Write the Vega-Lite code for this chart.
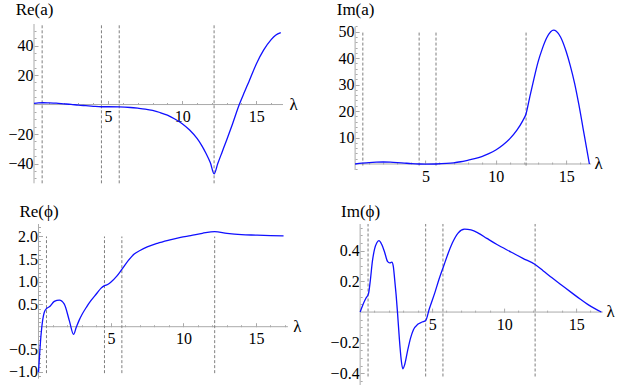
{
  "$schema": "https://vega.github.io/schema/vega-lite/v6.json",
  "padding": {"left": 7, "top": 0, "right": 0, "bottom": 0},
  "background": "white",
  "bounds": "flush",
  "columns": 2,
  "spacing": {"row": 40, "column": 67.1},
  "datasets": {
    "axes": [
      {"p": 1, "x": 0, "x2": 16.8, "y": 0, "y2": 0},
      {"p": 1, "x": 0, "x2": 0, "y": -53.4, "y2": 54.6},
      {"p": 2, "x": 0, "x2": 16.77, "y": 0, "y2": 0},
      {"p": 2, "x": 0, "x2": 0, "y": -2.27, "y2": 51.9},
      {"p": 3, "x": 0, "x2": 17.2, "y": 0, "y2": 0},
      {"p": 3, "x": 0, "x2": 0, "y": -1.153, "y2": 2.277},
      {"p": 4, "x": 0, "x2": 16.85, "y": 0, "y2": 0},
      {"p": 4, "x": 0, "x2": 0, "y": -0.48, "y2": 0.574}
    ],
    "vlines": [
      {"p": 1, "x": 0.55, "y": -53.4, "y2": 54.6},
      {"p": 1, "x": 4.55, "y": -53.4, "y2": 54.6},
      {"p": 1, "x": 5.75, "y": -53.4, "y2": 54.6},
      {"p": 1, "x": 12.15, "y": -53.4, "y2": 54.6},
      {"p": 2, "x": 0.55, "y": -0.6, "y2": 50.3},
      {"p": 2, "x": 4.55, "y": -0.6, "y2": 50.3},
      {"p": 2, "x": 5.75, "y": -0.6, "y2": 50.3},
      {"p": 2, "x": 12.15, "y": -0.6, "y2": 50.3},
      {"p": 3, "x": 0.55, "y": -1.03, "y2": 2.0},
      {"p": 3, "x": 4.55, "y": -1.03, "y2": 2.0},
      {"p": 3, "x": 5.75, "y": -1.03, "y2": 2.0},
      {"p": 3, "x": 12.15, "y": -1.03, "y2": 2.0},
      {"p": 4, "x": 0.55, "y": -0.42, "y2": 0.574},
      {"p": 4, "x": 4.55, "y": -0.42, "y2": 0.574},
      {"p": 4, "x": 5.75, "y": -0.42, "y2": 0.574},
      {"p": 4, "x": 12.15, "y": -0.42, "y2": 0.574}
    ],
    "rea": [
      {"x": 0, "y": 0.8}, {"x": 0.3, "y": 1.1}, {"x": 0.6, "y": 1.2}, {"x": 1.0, "y": 1.1},
      {"x": 1.5, "y": 0.9}, {"x": 2.0, "y": 0.5}, {"x": 2.5, "y": 0.1}, {"x": 3.0, "y": -0.4},
      {"x": 3.5, "y": -0.8}, {"x": 4.0, "y": -1.2}, {"x": 4.55, "y": -1.5}, {"x": 5.0, "y": -1.5},
      {"x": 5.75, "y": -1.6}, {"x": 6.5, "y": -2.0}, {"x": 7.0, "y": -2.5}, {"x": 7.5, "y": -3.1},
      {"x": 8.0, "y": -4.0}, {"x": 8.5, "y": -5.4}, {"x": 9.0, "y": -7.2}, {"x": 9.5, "y": -9.8},
      {"x": 10.0, "y": -13.0}, {"x": 10.5, "y": -17.3}, {"x": 11.0, "y": -23.0}, {"x": 11.3, "y": -27.5},
      {"x": 11.6, "y": -33.0}, {"x": 11.9, "y": -39.5}, {"x": 12.15, "y": -47.0}, {"x": 12.4, "y": -40.0},
      {"x": 12.7, "y": -32.0}, {"x": 13.0, "y": -24.0}, {"x": 13.4, "y": -13.0}, {"x": 13.85, "y": 0.0},
      {"x": 14.2, "y": 8.5}, {"x": 14.5, "y": 15.5}, {"x": 15.0, "y": 27.5}, {"x": 15.5, "y": 37.0},
      {"x": 16.0, "y": 44.0}, {"x": 16.3, "y": 47.0}, {"x": 16.65, "y": 48.8}
    ],
    "ima": [
      {"x": 0, "y": 0}, {"x": 0.5, "y": 0.3}, {"x": 1.0, "y": 0.55}, {"x": 1.5, "y": 0.7},
      {"x": 2.0, "y": 0.75}, {"x": 2.5, "y": 0.7}, {"x": 3.0, "y": 0.55}, {"x": 3.5, "y": 0.35},
      {"x": 4.0, "y": 0.15}, {"x": 4.55, "y": 0.0}, {"x": 5.0, "y": -0.05}, {"x": 5.75, "y": 0.0},
      {"x": 6.5, "y": 0.2}, {"x": 7.0, "y": 0.45}, {"x": 7.5, "y": 0.85}, {"x": 8.0, "y": 1.4},
      {"x": 8.5, "y": 2.0}, {"x": 9.0, "y": 2.8}, {"x": 9.5, "y": 3.9}, {"x": 10.0, "y": 5.3},
      {"x": 10.5, "y": 7.2}, {"x": 11.0, "y": 9.6}, {"x": 11.5, "y": 12.8}, {"x": 11.9, "y": 16.2},
      {"x": 12.15, "y": 19.0}, {"x": 12.4, "y": 25.0}, {"x": 12.7, "y": 32.0}, {"x": 13.0, "y": 38.5},
      {"x": 13.3, "y": 43.5}, {"x": 13.6, "y": 47.5}, {"x": 13.9, "y": 50.0}, {"x": 14.1, "y": 50.6},
      {"x": 14.3, "y": 50.2}, {"x": 14.6, "y": 48.0}, {"x": 15.0, "y": 42.5}, {"x": 15.3, "y": 37.0},
      {"x": 15.6, "y": 30.5}, {"x": 15.9, "y": 22.5}, {"x": 16.2, "y": 13.5}, {"x": 16.45, "y": 6.0},
      {"x": 16.65, "y": 0.0}
    ],
    "rephi": [
      {"x": 0, "y": -1.01}, {"x": 0.08, "y": -0.6}, {"x": 0.17, "y": -0.2}, {"x": 0.29, "y": 0.15},
      {"x": 0.4, "y": 0.32}, {"x": 0.55, "y": 0.4}, {"x": 0.75, "y": 0.44}, {"x": 1.09, "y": 0.56},
      {"x": 1.44, "y": 0.59}, {"x": 1.78, "y": 0.5}, {"x": 2.13, "y": 0.13}, {"x": 2.42, "y": -0.17},
      {"x": 2.6, "y": -0.02}, {"x": 2.8, "y": 0.14}, {"x": 3.0, "y": 0.27}, {"x": 3.3, "y": 0.43},
      {"x": 3.6, "y": 0.57}, {"x": 4.0, "y": 0.73}, {"x": 4.3, "y": 0.85}, {"x": 4.55, "y": 0.91},
      {"x": 4.8, "y": 0.94}, {"x": 5.0, "y": 0.99}, {"x": 5.4, "y": 1.12}, {"x": 5.75, "y": 1.27},
      {"x": 6.2, "y": 1.47}, {"x": 6.6, "y": 1.61}, {"x": 7.0, "y": 1.69}, {"x": 7.5, "y": 1.77},
      {"x": 8.2, "y": 1.85}, {"x": 9.0, "y": 1.92}, {"x": 9.8, "y": 1.98}, {"x": 10.5, "y": 2.02},
      {"x": 11.3, "y": 2.07}, {"x": 12.15, "y": 2.11}, {"x": 13.0, "y": 2.07}, {"x": 14.0, "y": 2.04},
      {"x": 15.0, "y": 2.03}, {"x": 16.0, "y": 2.02}, {"x": 16.9, "y": 2.015}
    ],
    "imphi": [
      {"x": 0, "y": 0.0}, {"x": 0.2, "y": 0.05}, {"x": 0.4, "y": 0.09}, {"x": 0.58, "y": 0.12},
      {"x": 0.7, "y": 0.2}, {"x": 0.85, "y": 0.33}, {"x": 1.0, "y": 0.41}, {"x": 1.15, "y": 0.45},
      {"x": 1.3, "y": 0.465}, {"x": 1.5, "y": 0.44}, {"x": 1.7, "y": 0.39}, {"x": 1.9, "y": 0.33},
      {"x": 2.05, "y": 0.32}, {"x": 2.2, "y": 0.325}, {"x": 2.3, "y": 0.3}, {"x": 2.4, "y": 0.21},
      {"x": 2.5, "y": 0.11}, {"x": 2.6, "y": -0.01}, {"x": 2.72, "y": -0.17}, {"x": 2.85, "y": -0.31},
      {"x": 2.96, "y": -0.37}, {"x": 3.1, "y": -0.34}, {"x": 3.3, "y": -0.25}, {"x": 3.5, "y": -0.17},
      {"x": 3.7, "y": -0.115}, {"x": 4.0, "y": -0.08}, {"x": 4.3, "y": -0.065}, {"x": 4.55, "y": -0.055},
      {"x": 4.8, "y": 0.02}, {"x": 5.2, "y": 0.13}, {"x": 5.5, "y": 0.22}, {"x": 5.8, "y": 0.3},
      {"x": 6.1, "y": 0.38}, {"x": 6.4, "y": 0.45}, {"x": 6.8, "y": 0.515}, {"x": 7.25, "y": 0.54},
      {"x": 7.7, "y": 0.535}, {"x": 8.2, "y": 0.515}, {"x": 8.8, "y": 0.48}, {"x": 9.5, "y": 0.44},
      {"x": 10.5, "y": 0.39}, {"x": 11.3, "y": 0.35}, {"x": 12.15, "y": 0.31}, {"x": 12.7, "y": 0.27},
      {"x": 13.3, "y": 0.225}, {"x": 14.0, "y": 0.175}, {"x": 14.7, "y": 0.125}, {"x": 15.3, "y": 0.083},
      {"x": 15.8, "y": 0.05}, {"x": 16.3, "y": 0.022}, {"x": 16.75, "y": 0.0}
    ]
  },
  "concat": [
    {
      "width": 249, "height": 159.3,
      "encoding": {
        "x": {"field": "x", "type": "quantitative",
          "scale": {"domain": [0, 16.8], "nice": false, "zero": false},
          "axis": {"orient": "bottom", "offset": -78.8,
            "values": [1,2,3,4,5,6,7,8,9,10,11,12,13,14,15,16],
            "tickSize": {"condition": {"test": "datum.value % 5 === 0", "value": -4}, "value": -2},
            "labelExpr": "datum.value % 5 === 0 ? datum.label : ''",
            "labelFont": "Liberation Serif", "labelFontSize": 16,
            "labelPadding": 8, "labelBaseline": "top",
            "title": "λ", "titleX": 255, "titleY": 4.5, "titleAlign": "left", "titleBaseline": "alphabetic"}},
        "y": {"field": "y", "type": "quantitative",
          "scale": {"domain": [-53.4, 54.6], "nice": false, "zero": false},
          "axis": {"orient": "left", "offset": 0, "format": "d",
            "values": [-50,-45,-40,-35,-30,-25,-20,-15,-10,-5,5,10,15,20,25,30,35,40,45,50],
            "tickSize": {"condition": {"test": "datum.value % 20 === 0", "value": -4}, "value": -2},
            "labelExpr": "datum.value % 20 === 0 ? datum.label : ''",
            "labelFont": "Liberation Serif", "labelFontSize": 16,
            "labelPadding": 5, "labelBaseline": "middle",
            "title": "Re(a)", "titleX": 0, "titleY": -10, "titleAlign": "center", "titleBaseline": "alphabetic"}}
      },
      "layer": [
        {"data": {"name": "axes"}, "transform": [{"filter": "datum.p == 1"}],
         "mark": {"type": "rule", "color": "#aaaaaa", "strokeWidth": 1},
         "encoding": {"x2": {"field": "x2"}, "y2": {"field": "y2"}}},
        {"data": {"name": "vlines"}, "transform": [{"filter": "datum.p == 1"}],
         "mark": {"type": "rule", "color": "#7f7f7f", "strokeWidth": 1, "strokeDash": [3, 2]},
         "encoding": {"y2": {"field": "y2"}}},
        {"data": {"name": "rea"},
         "mark": {"type": "line", "color": "#1010ff", "strokeWidth": 1.3, "interpolate": "monotone"}}
      ]
    },
    {
      "width": 236.4, "height": 146,
      "encoding": {
        "x": {"field": "x", "type": "quantitative",
          "scale": {"domain": [0, 16.8], "nice": false, "zero": false},
          "axis": {"orient": "bottom", "offset": -6,
            "values": [1,2,3,4,5,6,7,8,9,10,11,12,13,14,15,16],
            "tickSize": {"condition": {"test": "datum.value % 5 === 0", "value": -4}, "value": -2},
            "labelExpr": "datum.value % 5 === 0 ? datum.label : ''",
            "labelFont": "Liberation Serif", "labelFontSize": 16,
            "labelPadding": 8, "labelBaseline": "top",
            "title": "λ", "titleX": 239, "titleY": 4.5, "titleAlign": "left", "titleBaseline": "alphabetic"}},
        "y": {"field": "y", "type": "quantitative",
          "scale": {"domain": [-2.27, 52.9], "nice": false, "zero": false},
          "axis": {"orient": "left", "offset": 0, "format": "d",
            "values": [-2,2,4,6,8,10,12,14,16,18,20,22,24,26,28,30,32,34,36,38,40,42,44,46,48,50,52],
            "tickSize": {"condition": {"test": "datum.value % 10 === 0", "value": -4}, "value": -2},
            "labelExpr": "datum.value % 10 === 0 ? datum.label : ''",
            "labelFont": "Liberation Serif", "labelFontSize": 16,
            "labelPadding": 5, "labelBaseline": "middle",
            "title": "Im(a)", "titleX": 0, "titleY": -10, "titleAlign": "center", "titleBaseline": "alphabetic"}}
      },
      "layer": [
        {"data": {"name": "axes"}, "transform": [{"filter": "datum.p == 2"}],
         "mark": {"type": "rule", "color": "#aaaaaa", "strokeWidth": 1},
         "encoding": {"x2": {"field": "x2"}, "y2": {"field": "y2"}}},
        {"data": {"name": "vlines"}, "transform": [{"filter": "datum.p == 2"}],
         "mark": {"type": "rule", "color": "#7f7f7f", "strokeWidth": 1, "strokeDash": [3, 2]},
         "encoding": {"y2": {"field": "y2"}}},
        {"data": {"name": "ima"},
         "mark": {"type": "line", "color": "#1010ff", "strokeWidth": 1.3, "interpolate": "monotone"}}
      ]
    },
    {
      "width": 253.9, "height": 154.7,
      "encoding": {
        "x": {"field": "x", "type": "quantitative",
          "scale": {"domain": [-0.31, 17.2], "nice": false, "zero": false},
          "axis": {"orient": "bottom", "offset": -52,
            "values": [1,2,3,4,5,6,7,8,9,10,11,12,13,14,15,16,17],
            "tickSize": {"condition": {"test": "datum.value % 5 === 0", "value": -4}, "value": -2},
            "labelExpr": "datum.value % 5 === 0 ? datum.label : ''",
            "labelFont": "Liberation Serif", "labelFontSize": 16,
            "labelPadding": 8, "labelBaseline": "top",
            "title": "λ", "titleX": 258.7, "titleY": 4.5, "titleAlign": "left", "titleBaseline": "alphabetic"}},
        "y": {"field": "y", "type": "quantitative",
          "scale": {"domain": [-1.153, 2.277], "nice": false, "zero": false},
          "axis": {"orient": "left", "offset": -4.5, "format": ".1f",
            "values": [-1.1,-1.0,-0.9,-0.8,-0.7,-0.6,-0.5,-0.4,-0.3,-0.2,-0.1,0.1,0.2,0.3,0.4,0.5,0.6,0.7,0.8,0.9,1.0,1.1,1.2,1.3,1.4,1.5,1.6,1.7,1.8,1.9,2.0,2.1,2.2],
            "tickSize": {"condition": {"test": "abs(datum.value*2 - round(datum.value*2)) < 0.000001", "value": -4}, "value": -2},
            "labelExpr": "abs(datum.value*2 - round(datum.value*2)) < 0.000001 ? datum.label : ''",
            "labelFont": "Liberation Serif", "labelFontSize": 16,
            "labelPadding": 5, "labelBaseline": "middle",
            "title": "Re(ϕ)", "titleX": 0, "titleY": -7.5, "titleAlign": "center", "titleBaseline": "alphabetic"}}
      },
      "layer": [
        {"data": {"name": "axes"}, "transform": [{"filter": "datum.p == 3"}],
         "mark": {"type": "rule", "color": "#aaaaaa", "strokeWidth": 1},
         "encoding": {"x2": {"field": "x2"}, "y2": {"field": "y2"}}},
        {"data": {"name": "vlines"}, "transform": [{"filter": "datum.p == 3"}],
         "mark": {"type": "rule", "color": "#7f7f7f", "strokeWidth": 1, "strokeDash": [3, 2]},
         "encoding": {"y2": {"field": "y2"}}},
        {"data": {"name": "rephi"},
         "mark": {"type": "line", "color": "#1010ff", "strokeWidth": 1.3, "interpolate": "monotone"}}
      ]
    },
    {
      "width": 247.7, "height": 161.7,
      "encoding": {
        "x": {"field": "x", "type": "quantitative",
          "scale": {"domain": [-0.35, 16.85], "nice": false, "zero": false},
          "axis": {"orient": "bottom", "offset": -73.6,
            "values": [1,2,3,4,5,6,7,8,9,10,11,12,13,14,15,16],
            "tickSize": {"condition": {"test": "datum.value % 5 === 0", "value": -4}, "value": -2},
            "labelExpr": "datum.value % 5 === 0 ? datum.label : ''",
            "labelFont": "Liberation Serif", "labelFontSize": 16,
            "labelPadding": 8, "labelBaseline": "top",
            "title": "λ", "titleX": 251, "titleY": 4.5, "titleAlign": "left", "titleBaseline": "alphabetic"}},
        "y": {"field": "y", "type": "quantitative",
          "scale": {"domain": [-0.48, 0.574], "nice": false, "zero": false},
          "axis": {"orient": "left", "offset": -5.04, "format": ".1f",
            "values": [-0.45,-0.4,-0.35,-0.3,-0.25,-0.2,-0.15,-0.1,-0.05,0.05,0.1,0.15,0.2,0.25,0.3,0.35,0.4,0.45,0.5,0.55],
            "tickSize": {"condition": {"test": "abs(datum.value*5 - round(datum.value*5)) < 0.000001", "value": -4}, "value": -2},
            "labelExpr": "abs(datum.value*5 - round(datum.value*5)) < 0.000001 ? datum.label : ''",
            "labelFont": "Liberation Serif", "labelFontSize": 16,
            "labelPadding": 5, "labelBaseline": "middle",
            "title": "Im(ϕ)", "titleX": 0, "titleY": -7.5, "titleAlign": "center", "titleBaseline": "alphabetic"}}
      },
      "layer": [
        {"data": {"name": "axes"}, "transform": [{"filter": "datum.p == 4"}],
         "mark": {"type": "rule", "color": "#aaaaaa", "strokeWidth": 1},
         "encoding": {"x2": {"field": "x2"}, "y2": {"field": "y2"}}},
        {"data": {"name": "vlines"}, "transform": [{"filter": "datum.p == 4"}],
         "mark": {"type": "rule", "color": "#7f7f7f", "strokeWidth": 1, "strokeDash": [3, 2]},
         "encoding": {"y2": {"field": "y2"}}},
        {"data": {"name": "imphi"},
         "mark": {"type": "line", "color": "#1010ff", "strokeWidth": 1.3, "interpolate": "monotone"}}
      ]
    }
  ],
  "config": {
    "view": {"stroke": null},
    "axis": {
      "domain": false, "grid": false,
      "tickColor": "#aaaaaa", "tickWidth": 1,
      "labelColor": "#000000",
      "labelOverlap": false, "labelFlush": false,
      "titleFont": "Liberation Serif", "titleFontSize": 17, "titleFontWeight": "normal",
      "titleColor": "#000000", "titleAngle": 0, "titlePadding": 0
    }
  }
}
